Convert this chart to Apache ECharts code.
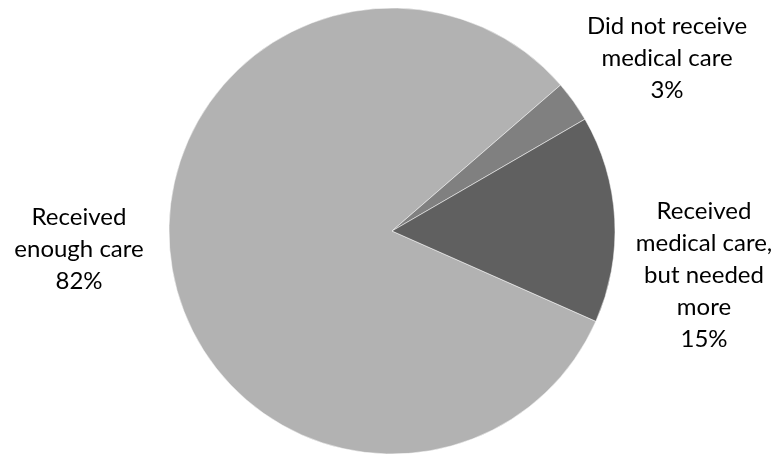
<!DOCTYPE html>
<html>
<head>
<meta charset="utf-8">
<script src="https://cdn.jsdelivr.net/npm/echarts@6/dist/echarts.min.js"></script>
<style>
html,body{margin:0;padding:0;background:#fff;}
#chart{width:777px;height:454px;}
</style>
</head>
<body>
<div id="chart"></div>
<script>
// ---- data ----
const categories = ['Received enough care', 'Did not receive medical care', 'Received medical care, but needed more'];
const values = [82, 3, 15];
const labelLines = ['Received\nenough care', 'Did not receive\nmedical care', 'Received\nmedical care,\nbut needed\nmore'];

// ---- layout / style (not data) ----
const sliceColors = ['#B2B2B2', '#808080', '#606060'];
const labelAnchors = [[79, 249], [667, 58], [704, 275]];

const chart = echarts.init(document.getElementById('chart'), null, {renderer: 'canvas'});
chart.setOption({
  backgroundColor: '#ffffff',
  animation: false,
  series: [{
    type: 'pie',
    center: [392, 231],
    radius: 223,
    startAngle: -23.9,
    clockwise: true,
    avoidLabelOverlap: false,
    itemStyle: {borderColor: '#ffffff', borderWidth: 0.5},
    label: {
      show: true,
      position: 'outside',
      fontFamily: 'Lato',
      fontSize: 24,
      lineHeight: 32,
      color: '#000000',
      formatter: p => labelLines[p.dataIndex] + '\n' + p.percent.toFixed(0) + '%'
    },
    labelLine: {show: false},
    labelLayout: p => ({x: labelAnchors[p.dataIndex][0], y: labelAnchors[p.dataIndex][1], align: 'center', verticalAlign: 'middle'}),
    data: categories.map((c, i) => ({name: c, value: values[i], itemStyle: {color: sliceColors[i]}}))
  }]
});
</script>
</body>
</html>
